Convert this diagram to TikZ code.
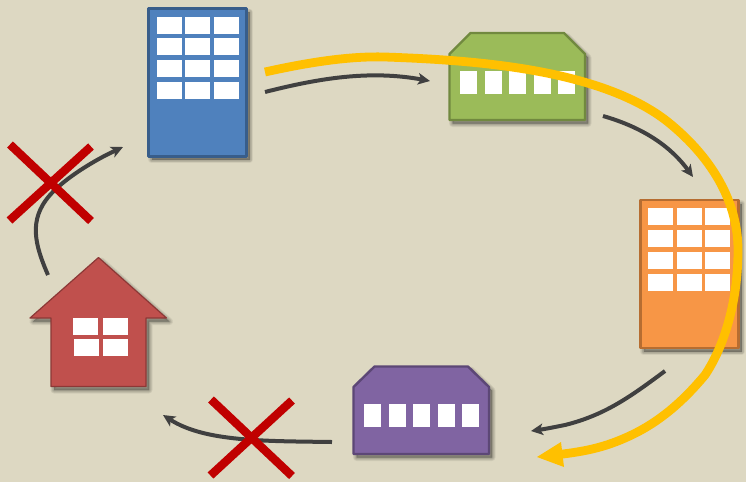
\documentclass[tikz,border=0pt]{standalone}
\usetikzlibrary{arrows.meta}
\definecolor{bgc}{HTML}{DDD8C2}
\definecolor{blueF}{HTML}{4F81BD}\definecolor{blueD}{HTML}{385D8A}
\definecolor{greenF}{HTML}{9BBB59}\definecolor{greenD}{HTML}{71893F}
\definecolor{orangeF}{HTML}{F79646}\definecolor{orangeD}{HTML}{B66D31}
\definecolor{purpleF}{HTML}{8064A2}\definecolor{purpleD}{HTML}{5C4776}
\definecolor{redF}{HTML}{C0504D}\definecolor{redD}{HTML}{8C3836}
\definecolor{goldC}{HTML}{FFC000}\definecolor{darkC}{HTML}{404040}\definecolor{crossC}{HTML}{C00000}
\tikzset{
  win/.style={fill=white,draw=none,inner sep=0pt,outer sep=0pt,minimum width=#1,anchor=north west},
  win/.default=25pt,
  bldg/.style={line width=2.4pt,line join=round},
  tower/.style={bldg,inner sep=0pt,outer sep=0pt,minimum width=98pt,minimum height=148pt,anchor=north west},
  flow/.style={draw=darkC,line width=4pt,-{Stealth[length=12pt,width=11.5pt,inset=3pt]}},
  goldflow/.style={draw=goldC,line width=8.8pt},
  nogo/.style={draw=crossC,line width=8.4pt},
  shade1/.style={fill=black,fill opacity=.06,draw=black,draw opacity=.06,line join=round}
}
\newcommand{\softshadow}[1]{%
  \begin{scope}[shift={(3,3.5)}]
    \path[shade1,line width=7pt] #1;
    \path[shade1,line width=5.5pt] #1;
    \path[shade1,line width=4pt] #1;
    \path[shade1,line width=2.5pt] #1;
    \path[shade1,line width=1pt] #1;
  \end{scope}}
\begin{document}
\begin{tikzpicture}[x=1pt,y=-1pt]
\useasboundingbox (0,0) rectangle (746,482);
\fill[bgc] (0,0) rectangle (746,482);
% blue tower
\softshadow{(148.5,8.5) rectangle (246.5,156)}
\node[tower,draw=blueD,fill=blueF] (tower1) at (148.5,8.5) {};
\foreach \c/\x in {a/157,b/185,c/214}
  \foreach \r/\y in {1/17,2/38,3/60,4/82}
    \node[win,minimum height=17pt] (t1\c\r) at (\x,\y) {};
% green block
\softshadow{(449.5,54) -- (470.5,33) -- (564,33) -- (585,54) -- (585,120) -- (449.5,120) -- cycle}
\path[bldg,draw=greenD,fill=greenF] (449.5,54) -- (470.5,33) -- (564,33) -- (585,54) -- (585,120) -- (449.5,120) -- cycle;
\foreach \n/\x in {1/460,2/485,3/509,4/534,5/558}
  \node[win=17pt,minimum height=23pt] (g\n) at (\x,71) {};
% orange tower
\softshadow{(640.5,200) rectangle (738.5,348)}
\node[tower,draw=orangeD,fill=orangeF] (tower2) at (640.5,200) {};
\foreach \c/\x in {a/648,b/677,c/705}
  \foreach \r/\y in {1/208,2/230,3/252,4/274}
    \node[win,minimum height=17pt] (t2\c\r) at (\x,\y) {};
% purple block
\softshadow{(353.5,387) -- (374.5,366.5) -- (468,366.5) -- (489,387) -- (489,454) -- (353.5,454) -- cycle}
\path[bldg,draw=purpleD,fill=purpleF] (353.5,387) -- (374.5,366.5) -- (468,366.5) -- (489,387) -- (489,454) -- (353.5,454) -- cycle;
\foreach \n/\x in {1/364,2/389,3/413,4/438,5/462}
  \node[win=17pt,minimum height=23pt] (p\n) at (\x,404) {};
% red house
\softshadow{(98.5,257.5) -- (166.5,318) -- (146,318) -- (146,386.5) -- (51,386.5) -- (51,318) -- (30,318) -- cycle}
\path[draw=redD,line width=1.2pt,line join=round,fill=redF] (98.5,257.5) -- (166.5,318) -- (146,318) -- (146,386.5) -- (51,386.5) -- (51,318) -- (30,318) -- cycle;
\node[win,minimum height=17pt] (h1) at (73,318) {};
\node[win,minimum height=17pt] (h2) at (103,318) {};
\node[win,minimum height=17pt] (h3) at (74,339) {};
\node[win,minimum height=17pt] (h4) at (103,339) {};
% connector ends
\coordinate (a1s) at (265,92);   \coordinate (a1e) at (430,81);
\coordinate (a2s) at (603,116);  \coordinate (a2e) at (693,177);
\coordinate (a3s) at (665,371);  \coordinate (a3e) at (531,431);
\coordinate (a4s) at (332,442);  \coordinate (a4e) at (163,415);
\coordinate (a5s) at (48,275);   \coordinate (a5e) at (123,147);
\draw[flow] (a1s) .. controls (320,78) and (370,70) .. (a1e);
\draw[flow] (a2s) .. controls (645,128) and (672,148) .. (a2e);
\draw[flow] (a3s) .. controls (630,397) and (605,415) .. (565,425) .. controls (555,427) and (545,429) .. (a3e);
\draw[flow] (a4s) .. controls (265,441) and (205,442) .. (a4e);
\draw[flow] (a5s) .. controls (35,245) and (28,220) .. (50,195) .. controls (65,178) and (95,160) .. (a5e);
% gold route
\coordinate (gs) at (265,72);
\coordinate (ge) at (555,455);
\coordinate (gt) at (537,457);
\draw[goldflow] (gs) .. controls (310,62) and (350,56) .. (385,57)
  .. controls (470,60) and (600,68) .. (668,122)
  .. controls (715,160) and (738,205) .. (738,250)
  .. controls (738,300) and (725,345) .. (705,375)
  .. controls (680,405) and (655,425) .. (625,438)
  .. controls (600,449) and (580,452) .. (ge);
\fill[goldC] (gt) -- (561,442) -- (564,467) -- cycle;
% crosses
\coordinate (c1a) at (10,144.5); \coordinate (c1b) at (91,221); \coordinate (c1c) at (91,146.5); \coordinate (c1d) at (9.5,220.5);
\coordinate (c2a) at (211,399.5); \coordinate (c2b) at (292,476); \coordinate (c2c) at (292,400.5); \coordinate (c2d) at (210.5,475.5);
\draw[nogo] (c1a) -- (c1b);
\draw[nogo] (c1c) -- (c1d);
\draw[nogo] (c2a) -- (c2b);
\draw[nogo] (c2c) -- (c2d);
\end{tikzpicture}
\end{document}
